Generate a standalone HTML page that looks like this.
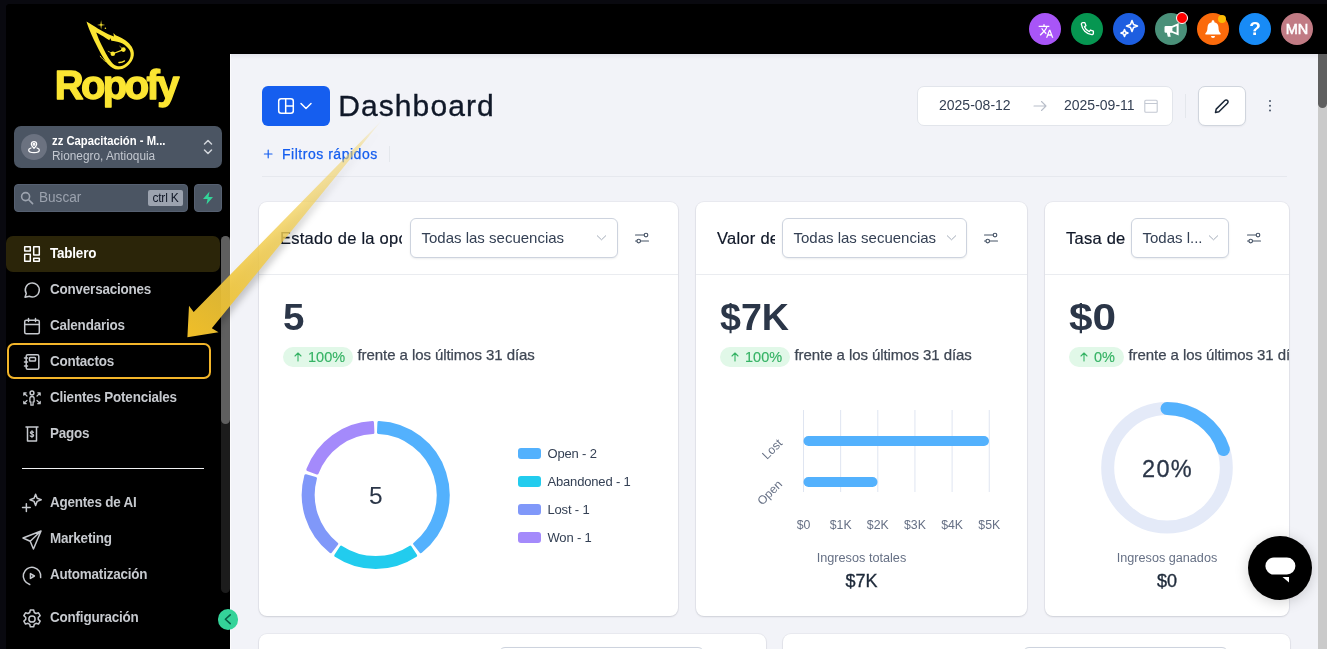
<!DOCTYPE html>
<html lang="es">
<head>
<meta charset="utf-8">
<title>Dashboard</title>
<style>
*{box-sizing:border-box;margin:0;padding:0}
html,body{width:1327px;height:649px;overflow:hidden;background:#09090f;font-family:"Liberation Sans",sans-serif;}
.abs{position:absolute}
#app{position:absolute;left:6px;top:4px;width:1321px;height:645px;background:#000;border-top-left-radius:4px;overflow:hidden}
#content{position:absolute;left:224px;top:50px;width:1088px;height:595px;background:#f2f3f8;overflow:hidden}
#vscroll{position:absolute;left:1312px;top:50px;width:9px;height:595px;background:#cacaca}
#vscroll i{position:absolute;left:0;top:0;width:9px;height:54px;background:#5f5f5f;border-radius:0 0 4.500px 4.500px}
.ic{position:absolute;top:9px;width:32px;height:32px;border-radius:16px}
.ic svg{position:absolute}
.dt{top:43.500px;font-size:14px;color:#344054;white-space:nowrap}
.lg{position:absolute;left:288.500px;font-size:13px;letter-spacing:-.17px;color:#344054;white-space:nowrap;line-height:15px}
.lg i{position:absolute;left:-29.500px;top:2px;width:23px;height:11px;border-radius:3px}
/* sidebar */
.nav{position:absolute;left:0;height:36px;width:214px;color:#c6c9ce;font-weight:700;font-size:14px;letter-spacing:-0.2px}
.nav span{position:absolute;left:44px;top:10px;white-space:nowrap;transform:scaleX(.96);transform-origin:0 0}
.nav svg.lg2{left:14px;top:7.500px;width:24px;height:24px;stroke-width:1.250}
.nav svg{position:absolute;left:16px;top:9px;width:20px;height:20px;stroke:#c6c9ce;fill:none;stroke-width:1.5;stroke-linecap:round;stroke-linejoin:round}
/* cards */
.card{position:absolute;background:#fff;border-radius:8px;box-shadow:0 1px 2px rgba(16,24,40,.12),0 0 0 1px rgba(16,24,40,.04)}
.card .hd{position:absolute;left:0;top:0;right:0;height:73px;border-bottom:1px solid #eaecf0}
.card .ttl{position:absolute;left:21px;top:27px;font-size:16.500px;letter-spacing:.25px;color:#101828;white-space:nowrap;overflow:hidden;-webkit-text-stroke:.2px #101828}
.sel{position:absolute;top:16px;height:39.500px;background:#fff;border:1px solid #cdd3de;border-radius:6px;box-shadow:0 1px 2px rgba(16,24,40,.08);font-size:15px;color:#344054;white-space:nowrap}
.sel span{position:absolute;left:11px;top:9.700px}
.big{position:absolute;left:24px;top:94.500px;font-size:36px;font-weight:700;color:#2b3648;transform-origin:0 0;white-space:nowrap}
.pill{position:absolute;left:24px;top:145px;height:19.500px;border-radius:10px;background:#e1f8e8;color:#36b365;font-size:14.500px;line-height:19.500px;white-space:nowrap;-webkit-text-stroke:.15px #36b365}
.pill svg{position:absolute;left:10.500px;top:5px}
.pill b{position:absolute;left:25px;top:.5px;font-weight:400}
.vs{position:absolute;top:144px;font-size:15px;color:#3f4754;white-space:nowrap;line-height:18px;letter-spacing:-.07px;-webkit-text-stroke:.25px #3f4754}
</style>
</head>
<body>
<div id="app">
  <!-- sidebar -->
  <div id="side" class="abs" style="left:0;top:0;width:224px;height:645px;background:#000">
    <!-- logo -->
    <svg class="abs" style="left:40px;top:10px" width="150" height="100" viewBox="46 14 150 100">
      <path fill="#fbe532" fill-rule="evenodd" d="M86.500 21.400C88 27 92 36 95.700 43.600C99 50.500 103 58.500 107.700 63.900C111 67.500 114 69.300 118 69.600C123 69.800 128.500 66.500 131.800 61.100C134 57 134.300 54 133.400 50.500C132 45.500 127.500 41 121.600 38C119.500 36.900 117.500 36 115.600 35.300L113.400 32.900L113.900 36.600C110 35.200 106.500 33.500 103.100 31.600C99.500 29.500 96.500 27.700 93.900 26C91 24.200 88.500 22.700 86.500 21.400ZM96.200 32.500C98 37 99.500 41 101.300 44.500C104 50 107.500 57 111.400 62C113.500 64.500 115.500 66 118 66.300C122 66.600 126.500 64 129 60.200C130.600 57.500 131 55 130.400 52.200C129.500 48.500 125.500 44.800 120.700 42.700C117.500 41.500 114.500 41.300 111.400 40.800L110.300 38.300L109.300 40.200C107 39 105 37.500 103.100 36.200C100.500 34.800 98.500 33.600 96.200 32.500Z"/>
      <g fill="none" stroke="#fbe532" stroke-linecap="round">
        <path d="M112.800 53.700L123.400 49.600" stroke-width="1.200"/>
        <path d="M112.800 53.700L108.200 51.300" stroke-width=".7"/>
        <path d="M123.400 49.600L119.800 46.300" stroke-width=".6"/>
        <path d="M119 62.600C121 62.700 123 62.100 124.400 61" stroke-width="1.500"/>
        <path d="M100.200 56.200C102 58.500 104 60.500 106.300 62" stroke-width=".8"/>
      </g>
      <circle cx="112.800" cy="53.700" r="2.300" fill="#fbe532"/><circle cx="123.400" cy="49.600" r="2.300" fill="#fbe532"/>
      <path d="M101.100 20.300L101.700 24.200L105.200 24.900L101.700 25.600L101.100 29.400L100.500 25.600L97 24.900L100.500 24.200Z" fill="#fbe532"/><circle cx="105.400" cy="28.300" r=".8" fill="#fbe532"/>
      <text x="54.700" y="98.700" font-family="'Liberation Sans',sans-serif" font-weight="700" font-size="40" letter-spacing="-2.600" fill="#fbe532" stroke="#fbe532" stroke-width="1.300" stroke-linejoin="round">Ropofy</text>
    </svg>
    <!-- account -->
    <div class="abs" style="left:8px;top:122px;width:208px;height:42px;background:#4b5563;border-radius:7px"></div>
    <div class="abs" style="left:15px;top:130px;width:26px;height:26px;border-radius:13px;background:#6b7280"></div>
    <svg class="abs" style="left:20px;top:135px" width="16" height="16" viewBox="0 0 24 24" fill="none" stroke="#fff" stroke-width="1.9" stroke-linecap="round" stroke-linejoin="round"><path d="M12 14c2.500-2.600 4-4.300 4-6.200A4 4 0 0 0 8 7.800c0 1.900 1.500 3.600 4 6.200z"/><circle cx="12" cy="8" r="1.300"/><path d="M7.500 13.500C5.300 14.200 4 15.300 4 16.500 4 18.700 7.600 20.500 12 20.500s8-1.800 8-4c0-1.200-1.300-2.300-3.500-3"/></svg>
    <div class="abs sx" style="left:46px;top:129.700px;font-size:12px;font-weight:700;color:#fff;white-space:nowrap;transform:scaleX(.94);transform-origin:0 0">zz Capacitación - M...</div>
    <div class="abs sx" style="left:46px;top:144.500px;font-size:12px;color:#c3c8d0;white-space:nowrap;transform:scaleX(.985);transform-origin:0 0">Rionegro, Antioquia</div>
    <svg class="abs" style="left:196px;top:133px" width="12" height="20" viewBox="0 0 12 20" fill="none" stroke="#d1d5db" stroke-width="1.500" stroke-linecap="round" stroke-linejoin="round"><path d="M2.500 7 L6 3.500 L9.500 7"/><path d="M2.500 13 L6 16.500 L9.500 13"/></svg>
    <!-- search -->
    <div class="abs" style="left:8px;top:180px;width:174px;height:28px;background:#4b5563;border:1px solid #566071;border-radius:4px"></div>
    <svg class="abs" style="left:14px;top:187px" width="14" height="14" viewBox="0 0 14 14" fill="none" stroke="#9ca3af" stroke-width="1.600" stroke-linecap="round"><circle cx="5.600" cy="5.600" r="4"/><path d="M8.700 8.700 L12.600 12.600"/></svg>
    <div class="abs" style="left:33px;top:185px;font-size:14px;color:#9ca3af;transform:scaleX(.97);transform-origin:0 0">Buscar</div>
    <div class="abs" style="left:142px;top:186px;width:35px;height:16px;background:#9ca3af;border-radius:2px;color:#111827;font-size:12px;line-height:16px;text-align:center;letter-spacing:-.2px">ctrl K</div>
    <div class="abs" style="left:188px;top:180px;width:28px;height:28px;background:#4b5563;border:1px solid #566071;border-radius:4px"></div>
    <svg class="abs" style="left:196px;top:187px" width="12" height="14" viewBox="0 0 12 14"><path d="M7.500 0.500 L1 8 H5.500 L4.500 13.500 L11 6 H6.500 Z" fill="#34d399"/></svg>
    <!-- nav -->
    <div class="abs" style="left:0;top:232px;width:214px;height:36px;background:#2b2509;border-radius:7px"></div>
    <div class="abs" style="left:.5px;top:339px;width:204px;height:36px;border:2px solid #f3b52a;border-radius:7px"></div>
    <div class="nav" style="top:231px;color:#fff"><svg viewBox="0 0 20 20" style="stroke:#fff"><rect x="2.700" y="2.700" width="5.600" height="4.300"/><rect x="11.700" y="2.700" width="5.600" height="8.300"/><rect x="2.700" y="10.200" width="5.600" height="7.100"/><rect x="11.700" y="14.200" width="5.600" height="3.100"/></svg><span>Tablero</span></div>
    <div class="nav" style="top:267px"><svg viewBox="0 0 20 20"><path d="M3 17.200l1.300-3.600A7 7 0 1 1 7.300 16.300z"/></svg><span>Conversaciones</span></div>
    <div class="nav" style="top:303px"><svg viewBox="0 0 20 20"><rect x="2.700" y="4.200" width="14.600" height="13.600" rx="1.500"/><path d="M2.700 8.500h14.600M6.500 2.500v3M13.500 2.500v3"/></svg><span>Calendarios</span></div>
    <div class="nav" style="top:339px"><svg viewBox="0 0 20 20"><rect x="4.200" y="2.700" width="12.600" height="14.600" rx="1.500"/><rect x="7.500" y="5.500" width="6" height="3.500" rx=".8"/><path d="M2.500 6h3M2.500 10h3M2.500 14h3"/></svg><span>Contactos</span></div>
    <div class="nav" style="top:375px"><svg viewBox="0 0 20 20"><circle cx="10" cy="5" r="1.900"/><path d="M7.900 10.600a2.100 2.100 0 0 1 4.200 0v3.200h-1v3.400H8.900v-3.400h-1z" stroke-width="1.300"/><path d="M5 8L1.800 4.800M1.800 7.200V4.800h2.400M15 8l3.200-3.200M18.200 7.200V4.800h-2.400M5 12.500l-3.200 3.200M1.800 13.300v2.400h2.400M15 12.500l3.200 3.200M18.200 13.300v2.400h-2.400" stroke-width="1.200"/></svg><span>Clientes Potenciales</span></div>
    <div class="nav" style="top:411px"><svg viewBox="0 0 20 20"><path d="M4 3h12M5.500 3v14h9V3"/><path d="M11.500 8.300c-.4-.5-1-.7-1.600-.7-1 0-1.600.5-1.600 1.200 0 1.700 3.400.7 3.400 2.500 0 .7-.7 1.300-1.700 1.300-.8 0-1.400-.3-1.800-.8M10 6.600v7" stroke-width="1.100"/></svg><span>Pagos</span></div>
    <div class="abs" style="left:16px;top:464.200px;width:182px;height:1px;background:#f0f1f3"></div>
    <div class="nav" style="top:480px"><svg class="lg2" viewBox="0 0 20 20"><path d="M13 1.800l1.300 3.400 3.400 1.300-3.400 1.300L13 11.200l-1.300-3.400L8.300 6.500l3.400-1.300z"/><path d="M5.300 9.800v6.400M2.100 13h6.400"/></svg><span>Agentes de AI</span></div>
    <div class="nav" style="top:516px"><svg class="lg2" viewBox="0 0 20 20"><path d="M17.500 2.500L2.500 8.300l6 2.700 2.700 6.500zM8.500 11l9-8.500"/></svg><span>Marketing</span></div>
    <div class="nav" style="top:552px"><svg class="lg2" viewBox="0 0 20 20"><path d="M8.11 17.05A7.300 7.300 0 1 1 17.19 11.27"/><path d="M8.700 8v4l3.300-2z"/></svg><span>Automatización</span></div>
    <div class="nav" style="top:595px"><svg class="lg2" viewBox="0 0 20 20"><circle cx="10" cy="10" r="2.600"/><path d="M8.600 2.500h2.800l.5 2.100 1.400.8 2.100-.6 1.400 2.400-1.600 1.500v1.600l1.600 1.500-1.400 2.400-2.100-.6-1.400.8-.5 2.100H8.600l-.5-2.100-1.400-.8-2.100.6-1.400-2.400 1.600-1.500V8.700L3.200 7.200l1.400-2.400 2.100.6 1.400-.8z"/></svg><span>Configuración</span></div>
    <!-- sidebar scrollbar -->
    <div class="abs" style="left:214.500px;top:232px;width:9px;height:357px;background:#1c1c1c;border-radius:4.500px"></div>
    <div class="abs" style="left:214.500px;top:232px;width:9px;height:188px;background:#5f5f5f;border-radius:4.500px"></div>
  </div>
  <!-- topbar -->
  <div id="top" class="abs" style="left:224px;top:0;width:1097px;height:50px;background:#000">
    <div class="ic" style="left:799px;background:#a855f7"><svg viewBox="0 0 24 24" width="16" height="16" style="left:8.700px;top:9.500px"><path fill="#fff" d="M12.870 15.070l-2.540-2.510.030-.030A17.520 17.520 0 0 0 14.070 6H17V4h-7V2H8v2H1v2h11.170C11.500 7.920 10.440 9.750 9 11.350 8.070 10.320 7.300 9.190 6.690 8h-2c.730 1.630 1.730 3.170 2.980 4.560l-5.090 5.020L4 19l5-5 3.110 3.110.760-2.040zM18.500 10h-2L12 22h2l1.120-3h4.750L21 22h2l-4.500-12zm-2.620 7l1.620-4.330L19.120 17h-3.240z"/></svg></div>
    <div class="ic" style="left:841px;background:#069651"><svg viewBox="0 0 24 24" width="18" height="18" style="left:7px;top:7px" fill="none" stroke="#fff" stroke-width="1.800" stroke-linejoin="round"><path d="M6.500 3.500h2.600l1.500 4-2 1.500a11 11 0 0 0 6.400 6.400l1.500-2 4 1.500v2.600a2 2 0 0 1-2.200 2A16 16 0 0 1 4.500 5.700a2 2 0 0 1 2-2.200z"/></svg></div>
    <div class="ic" style="left:883px;background:#1d5ee0"><svg viewBox="0 0 24 24" width="24" height="24" style="left:4px;top:4px" fill="none" stroke="#fff" stroke-width="1.600" stroke-linejoin="round"><path d="M15 3.500l1.500 4 4 1.500-4 1.500-1.500 4-1.500-4-4-1.500 4-1.500z"/><path d="M7.500 12.500l1 2.500 2.500 1-2.500 1-1 2.500-1-2.500-2.500-1 2.500-1z"/></svg></div>
    <div class="ic" style="left:925px;background:#4a9079"><svg viewBox="0 0 24 24" width="20" height="20" style="left:6.500px;top:7px"><path fill="#fff" d="M20 3.500v15l-8-3.200H9.500l1 4.700h-3.500l-1.200-4.700H4.500a1.500 1.500 0 0 1-1.500-1.500V8.700a1.500 1.500 0 0 1 1.500-1.500H12zM17.500 7.200L12.500 9.300v3.800l5 2.100z"/></svg></div>
    <div class="abs" style="left:946px;top:8px;width:12px;height:12px;border-radius:6px;background:#f00;border:1px solid #fff"></div>
    <div class="ic" style="left:967px;background:#fb6a0b"><svg viewBox="0 0 24 24" width="22" height="22" style="left:5px;top:5px"><path fill="#fff" d="M12 2.500a1.500 1.500 0 0 1 1.500 1.500v.6a6 6 0 0 1 4.500 5.800c0 3.600 1 5 2.200 6.100.5.500.2 1.500-.6 1.500H4.400c-.8 0-1.100-1-.6-1.500C5 15.400 6 14 6 10.400a6 6 0 0 1 4.500-5.800V4A1.500 1.500 0 0 1 12 2.500zM9.800 19.500h4.400a2.200 2.200 0 0 1-4.400 0z"/></svg></div>
    <div class="abs" style="left:988px;top:11px;width:8px;height:8px;border-radius:4px;background:#fbbc05"></div>
    <div class="ic" style="left:1009px;background:#188bf6;color:#fff;font-weight:700;font-size:19px;line-height:32px;text-align:center">?</div>
    <div class="ic" style="left:1051px;background:#c17b84;color:#fff;font-weight:400;font-size:14.500px;line-height:32px;text-align:center;-webkit-text-stroke:.55px #fff">MN</div>
  </div>
  <div id="content">
    <div class="abs" style="left:0;top:0;width:1088px;height:5px;background:linear-gradient(#e4e5ec,#f2f3f8)"></div>
    <div class="abs" style="left:0;top:0;width:1px;height:595px;background:#fbfbfd"></div>
    <div id="inner" class="abs" style="left:0;top:-1px">
    <!-- header -->
    <div class="abs" style="left:32px;top:33px;width:68px;height:40px;background:#155eef;border-radius:6px"></div>
    <svg class="abs" style="left:47px;top:44px" width="36" height="18" viewBox="0 0 36 18" fill="none" stroke="#fff" stroke-width="1.500" stroke-linecap="round" stroke-linejoin="round"><rect x="1.700" y="1.700" width="14.600" height="14.600" rx="2.500"/><path d="M8.700 1.700v14.600M8.700 9h7.600M24 6.500l5 5 5-5"/></svg>
    <div class="abs" style="left:108.200px;top:36.300px;font-size:30px;letter-spacing:1.100px;color:#101828;white-space:nowrap;-webkit-text-stroke:.35px #101828">Dashboard</div>
    <svg class="abs" style="left:33px;top:96px" width="10" height="10" viewBox="0 0 10 10" stroke="#155eef" stroke-width="1.200" stroke-linecap="round"><path d="M5.200 1.200v7.600M1.400 5h7.600"/></svg>
    <div class="abs" style="left:52px;top:93px;font-size:14px;letter-spacing:.52px;color:#155eef;white-space:nowrap;-webkit-text-stroke:.25px #155eef">Filtros rápidos</div>
    <div class="abs" style="left:159px;top:93px;width:1px;height:16px;background:#e4e7ec"></div>
    <div class="abs" style="left:32px;top:123px;width:1024.500px;height:1px;background:#e6e8ee"></div>
    <!-- date range -->
    <div class="abs" style="left:687px;top:33px;width:256px;height:39.500px;background:#fff;border:1px solid #e2e5eb;border-radius:7px"></div>
    <div class="abs dt" style="left:709px">2025-08-12</div>
    <svg class="abs" style="left:803px;top:47px" width="14" height="12" viewBox="0 0 14 12" fill="none" stroke="#b8bec9" stroke-width="1.100" stroke-linecap="round" stroke-linejoin="round"><path d="M1 6h12M8.500 1.500L13 6l-4.500 4.500"/></svg>
    <div class="abs dt" style="left:834px">2025-09-11</div>
    <svg class="abs" style="left:914px;top:46px" width="14" height="14" viewBox="0 0 14 14" fill="none" stroke="#c3c8d2" stroke-width="1.100"><rect x=".8" y="1.300" width="12.400" height="11.900" rx="1"/><path d="M.8 4.500h12.400"/></svg>
    <div class="abs" style="left:955px;top:41px;width:1px;height:24px;background:#e4e7ec"></div>
    <div class="abs" style="left:968px;top:33px;width:47.500px;height:39.500px;background:#fff;border:1px solid #d0d5dd;border-radius:7px;box-shadow:0 1px 2px rgba(16,24,40,.05)"></div>
    <svg class="abs" style="left:983px;top:44px" width="18" height="18" viewBox="0 0 18 18" fill="none" stroke="#1d2939" stroke-width="1.500" stroke-linejoin="round"><path d="M2.500 15.500l.7-3.400 8.600-8.600a1.900 1.900 0 0 1 2.700 2.700l-8.600 8.600z"/></svg>
    <div class="abs" style="left:1038.700px;top:46.700px;width:2.600px;height:2.600px;border-radius:2px;background:#475467;box-shadow:0 4.800px 0 #475467,0 9.600px 0 #475467"></div>

    <!-- card 1 -->
    <div class="card" style="left:29px;top:149px;width:419px;height:414px">
      <div class="hd"></div>
      <div class="ttl" style="width:122px">Estado de la oportunidad</div>
      <div class="sel" style="left:150.500px;width:208.500px"><span>Todas las secuencias</span><svg class="abs" style="left:185px;top:15px" width="11" height="8" viewBox="0 0 11 8" fill="none" stroke="#a4acb9" stroke-width="1" stroke-linecap="round" stroke-linejoin="round"><path d="M1.300 1.800l4.200 4 4.200-4"/></svg></div>
      <svg class="abs" style="left:375px;top:28px" width="16" height="16" viewBox="0 0 16 16" fill="none" stroke="#475467" stroke-width="1.150" stroke-linecap="round"><path d="M1.500 5h8.500M1.500 11H3M6.500 11h8"/><circle cx="12" cy="5" r="1.800"/><circle cx="4.700" cy="11" r="1.800"/></svg>
      <div class="big" style="left:23.500px;transform:scaleX(1.07)">5</div>
      <div class="pill" style="width:70px"><svg width="8" height="10" viewBox="0 0 8 10" fill="none" stroke="#36b365" stroke-width="1.100" stroke-linecap="round" stroke-linejoin="round"><path d="M4 9V1.200M1 4l3-3 3 3"/></svg><b>100%</b></div>
      <div class="vs" style="left:98.500px">frente a los últimos 31 días</div>
      <svg class="abs" style="left:0;top:0" width="419" height="414" stroke-width="3" stroke-linejoin="round"><path d="M119.92 220.57A72.5 72.5 0 0 1 161.88 349.70L155.65 341.88A62.5 62.5 0 0 0 119.48 230.56Z" fill="#53b1fd" stroke="#53b1fd"/><path d="M156.67 353.49A72.5 72.5 0 0 1 76.73 353.49L82.25 345.15A62.5 62.5 0 0 0 151.15 345.15Z" fill="#22ccee" stroke="#22ccee"/><path d="M71.52 349.70A72.5 72.5 0 0 1 46.82 273.68L56.46 276.35A62.5 62.5 0 0 0 77.75 341.88Z" fill="#8098f9" stroke="#8098f9"/><path d="M48.81 267.55A72.5 72.5 0 0 1 113.48 220.57L113.92 230.56A62.5 62.5 0 0 0 58.18 271.06Z" fill="#a48afb" stroke="#a48afb"/>
        <text x="116.700" y="301.700" text-anchor="middle" font-size="24.500" fill="#2b3648" stroke="none" font-family="'Liberation Sans',sans-serif">5</text>
      </svg>
      <div class="lg" style="top:244px"><i style="background:#53b1fd"></i>Open - 2</div>
      <div class="lg" style="top:272px"><i style="background:#22ccee"></i>Abandoned - 1</div>
      <div class="lg" style="top:300px"><i style="background:#8098f9"></i>Lost - 1</div>
      <div class="lg" style="top:328px"><i style="background:#a48afb"></i>Won - 1</div>
    </div>

    <!-- card 2 -->
    <div class="card" style="left:466px;top:149px;width:331px;height:414px">
      <div class="hd"></div>
      <div class="ttl" style="width:57.500px">Valor de la oportunidad</div>
      <div class="sel" style="left:85.500px;width:185.500px"><span>Todas las secuencias</span><svg class="abs" style="left:163.500px;top:15px" width="11" height="8" viewBox="0 0 11 8" fill="none" stroke="#a4acb9" stroke-width="1" stroke-linecap="round" stroke-linejoin="round"><path d="M1.300 1.800l4.200 4 4.200-4"/></svg></div>
      <svg class="abs" style="left:287px;top:28px" width="16" height="16" viewBox="0 0 16 16" fill="none" stroke="#475467" stroke-width="1.150" stroke-linecap="round"><path d="M1.500 5h8.500M1.500 11H3M6.500 11h8"/><circle cx="12" cy="5" r="1.800"/><circle cx="4.700" cy="11" r="1.800"/></svg>
      <div class="big" style="left:24px;transform:scaleX(1.045)">$7K</div>
      <div class="pill" style="width:70px"><svg width="8" height="10" viewBox="0 0 8 10" fill="none" stroke="#36b365" stroke-width="1.100" stroke-linecap="round" stroke-linejoin="round"><path d="M4 9V1.200M1 4l3-3 3 3"/></svg><b>100%</b></div>
      <div class="vs" style="left:98.500px">frente a los últimos 31 días</div>
      <svg class="abs" style="left:0;top:0" width="331" height="414" font-family="'Liberation Sans',sans-serif">
        <g stroke="#dfe5f1" stroke-width="1"><path d="M107.50 208v82"/><path d="M144.65 208v82"/><path d="M181.80 208v82"/><path d="M218.95 208v82"/><path d="M256.10 208v82"/><path d="M293.25 208v82"/></g>
        <path d="M112.500 239H288" stroke="#53b1fd" stroke-width="10" stroke-linecap="round"/>
        <path d="M112.500 280H176.500" stroke="#53b1fd" stroke-width="10" stroke-linecap="round"/>
        <g font-size="12" fill="#667085" text-anchor="end"><text transform="translate(87 242) rotate(-45)">Lost</text><text transform="translate(87 283) rotate(-45)">Open</text></g>
        <g font-size="12.300" fill="#667085" text-anchor="middle"><text x="107.50" y="327.300">$0</text><text x="144.65" y="327.300">$1K</text><text x="181.80" y="327.300">$2K</text><text x="218.95" y="327.300">$3K</text><text x="256.10" y="327.300">$4K</text><text x="293.25" y="327.300">$5K</text></g>
        <text x="165.500" y="359.500" font-size="12.700" fill="#667085" text-anchor="middle">Ingresos totales</text>
        <text x="165.500" y="385" font-size="18" fill="#1d2939" text-anchor="middle" stroke="#1d2939" stroke-width=".35">$7K</text>
      </svg>
    </div>

    <!-- card 3 -->
    <div class="card" style="left:815px;top:149px;width:244px;height:414px;overflow:hidden">
      <div class="hd"></div>
      <div class="ttl" style="width:58.500px">Tasa de conversión</div>
      <div class="sel" style="left:85.500px;width:98.500px"><span>Todas l...</span><svg class="abs" style="left:76.500px;top:15px" width="11" height="8" viewBox="0 0 11 8" fill="none" stroke="#a4acb9" stroke-width="1" stroke-linecap="round" stroke-linejoin="round"><path d="M1.300 1.800l4.200 4 4.200-4"/></svg></div>
      <svg class="abs" style="left:200.5px;top:28px" width="16" height="16" viewBox="0 0 16 16" fill="none" stroke="#475467" stroke-width="1.150" stroke-linecap="round"><path d="M1.500 5h8.500M1.500 11H3M6.500 11h8"/><circle cx="12" cy="5" r="1.800"/><circle cx="4.700" cy="11" r="1.800"/></svg>
      <div class="big" style="left:24px;transform:scaleX(1.176)">$0</div>
      <div class="pill" style="width:55px"><svg width="8" height="10" viewBox="0 0 8 10" fill="none" stroke="#36b365" stroke-width="1.100" stroke-linecap="round" stroke-linejoin="round"><path d="M4 9V1.200M1 4l3-3 3 3"/></svg><b>0%</b></div>
      <div class="vs" style="left:83.500px">frente a los últimos 31 días</div>
      <svg class="abs" style="left:0;top:0" width="244" height="414" fill="none" font-family="'Liberation Sans',sans-serif">
        <circle cx="122" cy="265.800" r="59.300" stroke="#e4eaf8" stroke-width="13"/>
        <path d="M122.00 206.50 A59.3 59.3 0 0 1 178.40 247.48" stroke="#53b1fd" stroke-width="13" stroke-linecap="round"/>
        <text x="122.500" y="275" font-size="23.500" letter-spacing="1.300" fill="#2b3648" stroke="#2b3648" stroke-width=".3" text-anchor="middle">20%</text>
        <text x="122" y="359.500" font-size="12.650" fill="#667085" text-anchor="middle">Ingresos ganados</text>
        <text x="122" y="385" font-size="18" fill="#1d2939" text-anchor="middle" stroke="#1d2939" stroke-width=".35">$0</text>
      </svg>
    </div>

    <!-- row 2 -->
    <div class="card" style="left:29px;top:581px;width:506.500px;height:100px">
      <div class="sel" style="left:240px;top:12.500px;width:205px"></div>
    </div>
    <div class="card" style="left:552.500px;top:581px;width:507px;height:100px">
      <div class="sel" style="left:240px;top:12.500px;width:205px"></div>
    </div>

    <!-- chat widget -->
    <div class="abs" style="left:1018px;top:483px;width:64px;height:64px;border-radius:32px;background:#000;box-shadow:0 2px 14px rgba(0,0,0,.18)"></div>
    <svg class="abs" style="left:1034px;top:503px" width="32" height="28" viewBox="0 0 32 28"><rect x="1.400" y="1.600" width="30" height="17" rx="8.500" fill="#fff"/><path d="M18.500 21h6.500v5.500z" fill="#fff"/></svg>
    </div>
  </div>
  <div class="abs" style="left:211.800px;top:605.300px;width:20.500px;height:20.500px;border-radius:50%;background:#34d399"></div>
  <svg class="abs" style="left:211.800px;top:605.300px" width="20.500" height="20.500" viewBox="0 0 20.500 20.500" fill="none" stroke="#065f46" stroke-width="1.600" stroke-linecap="round" stroke-linejoin="round"><path d="M12.200 5.900L7.400 10.250l4.800 4.350"/></svg>
  <div id="vscroll"><i></i></div>
</div>
<svg class="abs" style="left:0;top:0;pointer-events:none" width="1327" height="649" viewBox="0 0 1327 649">
  <defs>
    <linearGradient id="ag" gradientUnits="userSpaceOnUse" x1="383.0" y1="119.0" x2="187.4" y2="337.2">
      <stop offset="0" stop-color="#f3d774" stop-opacity="0"/>
      <stop offset=".12" stop-color="#f3d670" stop-opacity=".55"/>
      <stop offset=".5" stop-color="#f2cf55" stop-opacity=".8"/>
      <stop offset=".85" stop-color="#f1c535" stop-opacity=".93"/>
      <stop offset="1" stop-color="#f0be28" stop-opacity="1"/>
    </linearGradient>
    <linearGradient id="sg" gradientUnits="userSpaceOnUse" x1="383.0" y1="119.0" x2="187.4" y2="337.2">
      <stop offset="0" stop-color="#000" stop-opacity="0"/>
      <stop offset=".25" stop-color="#000" stop-opacity=".05"/><stop offset=".5" stop-color="#000" stop-opacity=".16"/>
      <stop offset="1" stop-color="#000" stop-opacity=".22"/>
    </linearGradient>
    <filter id="bl" x="-20%" y="-20%" width="140%" height="140%"><feGaussianBlur stdDeviation="3"/></filter>
  </defs>
  <path d="M383.0 119.0 L193.7 311.9 L189.0 305.7 L187.4 337.2 L218.5 332.2 L211.8 328.2Z" fill="url(#sg)" filter="url(#bl)" transform="translate(4 3)"/>
  <path d="M383.0 119.0 L193.7 311.9 L189.0 305.7 L187.4 337.2 L218.5 332.2 L211.8 328.2Z" fill="url(#ag)"/>
</svg>
</body>
</html>
